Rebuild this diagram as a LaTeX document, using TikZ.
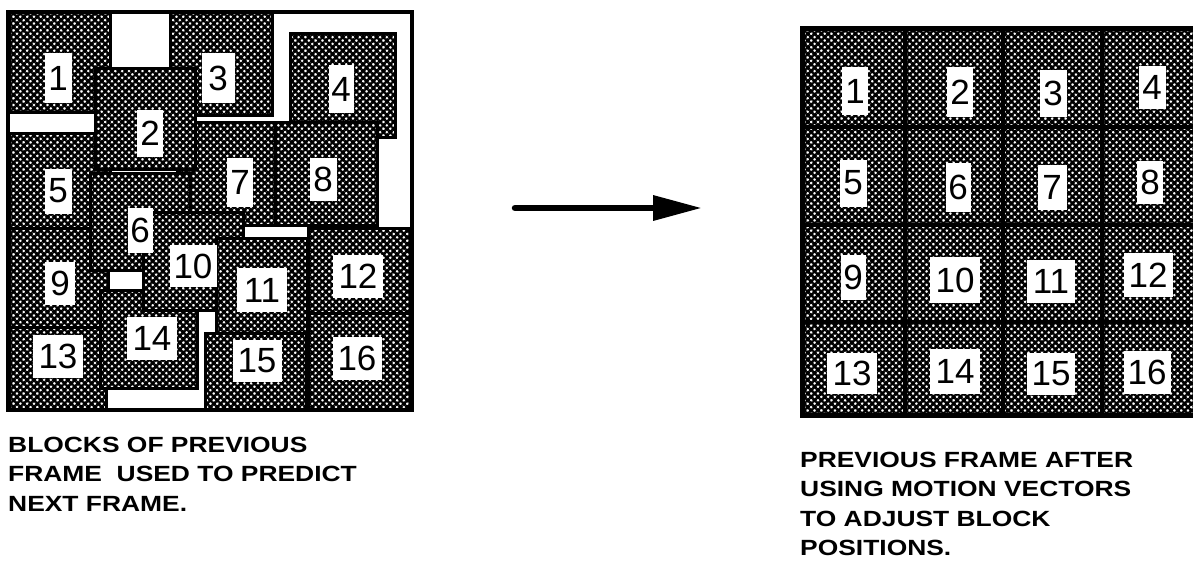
\documentclass[tikz,border=0pt]{standalone}
\usepackage{fontspec}
\setmainfont{Liberation Sans}
\newfontfamily\capfont[FakeStretch=1.2]{Liberation Sans}
\usetikzlibrary{patterns.meta,arrows.meta}
\tikzset{
  blk/.style={preaction={fill=white}, pattern={Hatch[angle=45,distance=4.8pt,line width=2.5pt]}, pattern color=black, draw=black, line width=3pt},
  frm/.style={draw=black, line width=4pt},
  lbl/.style={fill=white, inner sep=0pt, font=\fontsize{35}{35}\selectfont},
  captxt/.style={anchor=north west, inner sep=0pt, align=left, font=\capfont\bfseries\fontsize{22}{29.3}\selectfont},
  arr/.style={line width=6.5pt, line cap=round, -{Triangle[length=49pt,width=24pt]}}
}
\begin{document}
\begin{tikzpicture}[x=1pt,y=-1pt]
\useasboundingbox (0,0) rectangle (1193,570);
\clip (0,0) rectangle (1193,570);
% ---------- left frame: displaced blocks ----------
\fill[white] (8,12) rectangle (412,410);
\path[blk] (9,12) rectangle (110,112);    % 1
\path[blk] (170,12) rectangle (272,115);  % 3
\path[blk] (290,33) rectangle (395,137);  % 4
\path[blk] (9,133) rectangle (110,228);   % 5
\path[blk] (177,122) rectangle (275,225); % 7
\path[blk] (275,122) rectangle (377,225); % 8
\path[blk] (95,68) rectangle (195,169);   % 2
\path[blk] (9,228) rectangle (108,327);   % 9
\path[blk] (9,327) rectangle (106,410);   % 13
\path[blk] (90,173) rectangle (190,270);  % 6
\path[blk] (308,228) rectangle (410,313); % 12
\path[blk] (308,313) rectangle (410,410); % 16
\path[blk] (100,290) rectangle (197,388); % 14
\path[blk] (143,212) rectangle (243,310); % 10
\path[blk] (216,238) rectangle (307,333); % 11
\path[blk] (205,333) rectangle (306,410); % 15
\draw[frm] (8,12) rectangle (412,410);
\node[lbl, minimum width=27pt, minimum height=50pt] (l1) at (58,78) {1};
\node[lbl, minimum width=26pt, minimum height=47pt] (l2) at (150,133) {2};
\node[lbl, minimum width=33pt, minimum height=50pt] (l3) at (218,78) {3};
\node[lbl, minimum width=25pt, minimum height=48pt] (l4) at (341,89) {4};
\node[lbl, minimum width=27pt, minimum height=45pt] (l5) at (58,191) {5};
\node[lbl, minimum width=25pt, minimum height=45pt] (l6) at (140,230) {6};
\node[lbl, minimum width=26pt, minimum height=49pt] (l7) at (240,182) {7};
\node[lbl, minimum width=27pt, minimum height=43pt] (l8) at (323,179) {8};
\node[lbl, minimum width=30pt, minimum height=43pt] (l9) at (60,283) {9};
\node[lbl, minimum width=47pt, minimum height=42pt] (l10) at (193,266) {10};
\node[lbl, minimum width=50pt, minimum height=44pt] (l11) at (262,290) {11};
\node[lbl, minimum width=50pt, minimum height=43pt] (l12) at (358,276) {12};
\node[lbl, minimum width=50pt, minimum height=43pt] (l13) at (58,356) {13};
\node[lbl, minimum width=50pt, minimum height=43pt] (l14) at (152,338) {14};
\node[lbl, minimum width=49pt, minimum height=42pt] (l15) at (257,361) {15};
\node[lbl, minimum width=49pt, minimum height=43pt] (l16) at (357,358) {16};
% ---------- arrow ----------
\coordinate (a1) at (515,208);
\coordinate (a2) at (702,208);
\draw[arr] (a1) -- (a2);
% ---------- right frame: regular grid ----------
\foreach \xa/\xb [count=\i] in {802/905,905/1003,1003/1102,1102/1200}
  \foreach \ya/\yb [count=\j] in {28/127,127/225,225/322,322/415}
    \path[blk, line width=4pt] (\xa,\ya) rectangle (\xb,\yb);
\draw[frm, line width=5pt] (802,28) rectangle (1200,415);
\node[lbl, minimum width=26pt, minimum height=48pt] (r1) at (855,91) {1};
\node[lbl, minimum width=26pt, minimum height=50pt] (r2) at (960,92) {2};
\node[lbl, minimum width=27pt, minimum height=47pt] (r3) at (1053,93) {3};
\node[lbl, minimum width=27pt, minimum height=43pt] (r4) at (1152,87) {4};
\node[lbl, minimum width=27pt, minimum height=47pt] (r5) at (853,183) {5};
\node[lbl, minimum width=25pt, minimum height=49pt] (r6) at (958,187) {6};
\node[lbl, minimum width=29pt, minimum height=45pt] (r7) at (1052,187) {7};
\node[lbl, minimum width=26pt, minimum height=43pt] (r8) at (1150,182) {8};
\node[lbl, minimum width=25pt, minimum height=45pt] (r9) at (853,277) {9};
\node[lbl, minimum width=50pt, minimum height=46pt] (r10) at (955,280) {10};
\node[lbl, minimum width=48pt, minimum height=43pt] (r11) at (1051,281) {11};
\node[lbl, minimum width=49pt, minimum height=44pt] (r12) at (1148,275) {12};
\node[lbl, minimum width=50pt, minimum height=41pt] (r13) at (852,373) {13};
\node[lbl, minimum width=50pt, minimum height=45pt] (r14) at (955,371) {14};
\node[lbl, minimum width=48pt, minimum height=42pt] (r15) at (1051,374) {15};
\node[lbl, minimum width=47pt, minimum height=43pt] (r16) at (1147,372) {16};
% ---------- captions ----------
\node[captxt] (capL) at (8,437) {BLOCKS OF PREVIOUS\\FRAME\ \ USED TO PREDICT\\NEXT FRAME.};
\node[captxt] (capR) at (800,452) {PREVIOUS FRAME AFTER\\USING MOTION VECTORS\\TO ADJUST BLOCK\\POSITIONS.};
\end{tikzpicture}
\end{document}
